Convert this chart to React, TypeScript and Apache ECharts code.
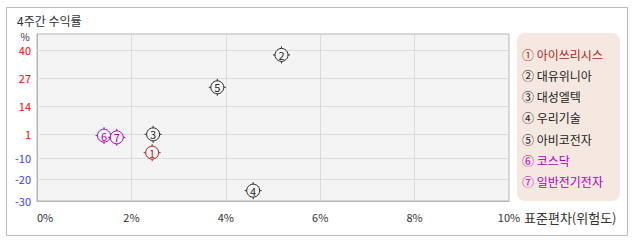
import React, { useEffect, useRef } from "react";
import * as echarts from "echarts";

const names = ["아이쓰리시스", "대유위니아", "대성엘텍", "우리기술", "아비코전자", "코스닥", "일반전기전자"];
const marks = ["①", "②", "③", "④", "⑤", "⑥", "⑦"];
const risk = [2.44, 5.18, 2.46, 4.58, 3.82, 1.42, 1.69];
const returns = [-7.6, 37.7, 0.9, -25.2, 22.7, 0.3, -0.5];
const colors = ["#b01e1e", "#2a2a2a", "#2a2a2a", "#2a2a2a", "#2a2a2a", "#b000b8", "#b000b8"];
const yTicks = [-30, -20, -10, 1, 14, 27, 40];
const yGrid = [-20, -10, 1, 14, 27, 40];

const FONT = '"Noto Sans CJK KR", "Noto Sans", sans-serif';

export default function App() {
  const ref = useRef<HTMLDivElement>(null);
  useEffect(() => {
    document.body.style.margin = "0";
    const chart = echarts.init(ref.current!, undefined, { renderer: "svg" });
    const data = risk.map((r, i) => [r, returns[i]]);
    const legendTexts = names.map((n, i) => ({
      type: "text",
      x: 522,
      y: 54 + i * 21.3,
      style: {
        text: marks[i] + " " + n,
        fill: colors[i] === "#2a2a2a" ? "#222" : colors[i],
        font: `12px ${FONT}`,
        verticalAlign: "middle",
        textVerticalAlign: "middle",
      },
    }));
    chart.setOption({
      animation: false,
      textStyle: { fontFamily: FONT },
      grid: {
        left: 37,
        top: 34,
        right: 129,
        bottom: 41,
        show: true,
        backgroundColor: "#f4f4f4",
        borderColor: "#b4b4b4",
        borderWidth: 1,
      },
      xAxis: {
        type: "value",
        min: 0,
        max: 10,
        interval: 2,
        axisLine: { show: true, onZero: false, lineStyle: { color: "#b4b4b4" } },
        axisTick: { show: false },
        splitLine: { show: true, lineStyle: { color: "#dcdcdc" } },
        axisLabel: {
          formatter: "{value}%",
          color: "#333",
          fontSize: 11,
          margin: 10,
          alignMinLabel: "left",
        },
      },
      yAxis: {
        type: "value",
        min: -30,
        max: 47.4,
        axisLine: { show: true, onZero: false, lineStyle: { color: "#b4b4b4" } },
        axisTick: { show: false, customValues: yTicks },
        splitLine: { show: false },
        axisLabel: {
          customValues: yTicks,
          margin: 6,
          fontSize: 11,
          formatter: (v: number) => (v > 0 ? `{p|${v}}` : `{n|${v}}`),
          rich: {
            p: { color: "#ff0000", fontSize: 11 },
            n: { color: "#4040ff", fontSize: 11 },
          },
        },
      },
      graphic: [
        {
          type: "rect",
          z: -10,
          shape: { x: 6.5, y: 7.5, width: 621, height: 228 },
          style: { fill: "none", stroke: "#bbbbbb", lineWidth: 1 },
        },
        {
          type: "text",
          x: 17,
          y: 20,
          style: { text: "4주간 수익률", fill: "#333", font: `12px ${FONT}`, verticalAlign: "middle", textVerticalAlign: "middle" },
        },
        {
          type: "text",
          x: 25,
          y: 36,
          style: { text: "%", fill: "#333", font: `10px ${FONT}`, align: "center", textAlign: "center", verticalAlign: "middle", textVerticalAlign: "middle" },
        },
        {
          type: "text",
          x: 524,
          y: 217,
          style: { text: "표준편차(위험도)", fill: "#333", font: `13px ${FONT}`, verticalAlign: "middle", textVerticalAlign: "middle" },
        },
        {
          type: "rect",
          shape: { x: 517, y: 33, width: 103, height: 168, r: 8 },
          style: { fill: "#f5e8e1" },
        },
        ...legendTexts,
      ],
      series: [
        {
          type: "scatter",
          data: [],
          z: 1,
          silent: true,
          markLine: {
            silent: true,
            symbol: "none",
            label: { show: false },
            lineStyle: { color: "#dcdcdc", width: 1, type: "solid" },
            data: yGrid.map((v) => ({ yAxis: v })),
          },
        },
        {
          type: "custom",
          z: 5,
          data,
          renderItem: (params: any, api: any) => {
            const i = params.dataIndex;
            const [cx, cy] = api.coord([api.value(0), api.value(1)]);
            const c = colors[i];
            const r = 6.5;
            const t = 2;
            const ln = (x1: number, y1: number, x2: number, y2: number) => ({
              type: "line",
              shape: { x1, y1, x2, y2 },
              style: { stroke: c, lineWidth: 1 },
            });
            return {
              type: "group",
              children: [
                { type: "circle", shape: { cx, cy, r }, style: { fill: "#f4f4f4", stroke: c, lineWidth: 1 } },
                ln(cx, cy - r - t, cx, cy - r),
                ln(cx, cy + r, cx, cy + r + t),
                ln(cx - r - t, cy, cx - r, cy),
                ln(cx + r, cy, cx + r + t, cy),
                {
                  type: "text",
                  style: {
                    text: String(i + 1),
                    x: cx,
                    y: cy,
                    align: "center",
                    textAlign: "center",
                    verticalAlign: "middle",
                    textVerticalAlign: "middle",
                    fill: c,
                    font: `11px ${FONT}`,
                  },
                },
              ],
            };
          },
        },
      ],
    });
    return () => chart.dispose();
  }, []);
  return <div ref={ref} style={{ width: 638, height: 242 }} />;
}
